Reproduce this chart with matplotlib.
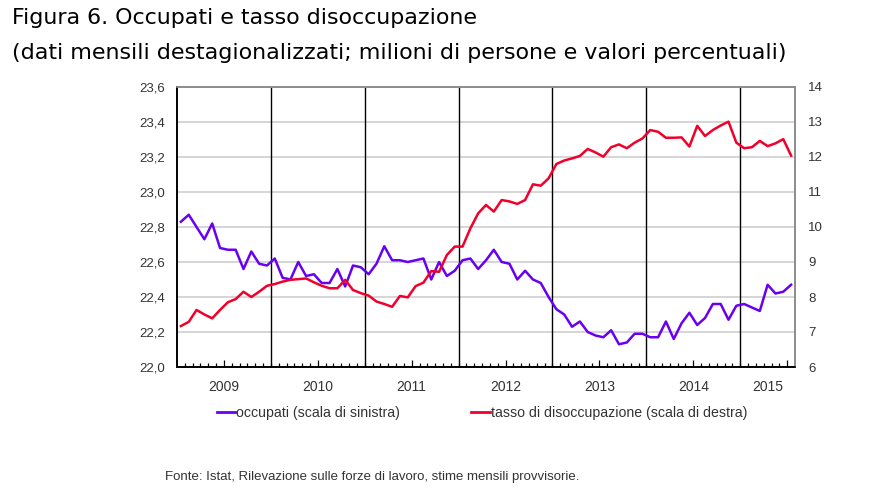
import numpy as np
import matplotlib
matplotlib.use("Agg")
import matplotlib.pyplot as plt
from matplotlib.lines import Line2D
import matplotlib.transforms as mtransforms

# occupati (milioni), gennaio 2009 - luglio 2015
occupati = [
    22.83, 22.87, 22.80, 22.73, 22.82, 22.68, 22.67, 22.67, 22.56, 22.66, 22.59, 22.58,
    22.62, 22.51, 22.50, 22.60, 22.52, 22.53, 22.48, 22.48, 22.56, 22.46, 22.58, 22.57,
    22.53, 22.59, 22.69, 22.61, 22.61, 22.60, 22.61, 22.62, 22.50, 22.60, 22.52, 22.55,
    22.61, 22.62, 22.56, 22.61, 22.67, 22.60, 22.59, 22.50, 22.55, 22.50, 22.48, 22.40,
    22.33, 22.30, 22.23, 22.26, 22.20, 22.18, 22.17, 22.21, 22.13, 22.14, 22.19, 22.19,
    22.17, 22.17, 22.26, 22.16, 22.25, 22.31, 22.24, 22.28, 22.36, 22.36, 22.27, 22.35,
    22.36, 22.34, 22.32, 22.47, 22.42, 22.43, 22.47,
]

# tasso di disoccupazione (%)
tasso = [
    7.17, 7.29, 7.63, 7.50, 7.39, 7.63, 7.85, 7.94, 8.15, 8.00, 8.15, 8.32,
    8.37, 8.44, 8.49, 8.51, 8.53, 8.42, 8.32, 8.25, 8.25, 8.49, 8.20, 8.11,
    8.04, 7.87, 7.80, 7.72, 8.03, 7.99, 8.31, 8.41, 8.74, 8.72, 9.20, 9.44,
    9.44, 9.96, 10.39, 10.63, 10.44, 10.77, 10.73, 10.66, 10.77, 11.22, 11.18, 11.39,
    11.80, 11.90, 11.96, 12.03, 12.23, 12.13, 12.01, 12.28, 12.36, 12.25, 12.41, 12.53,
    12.77, 12.72, 12.55, 12.55, 12.56, 12.30, 12.89, 12.60, 12.77, 12.90, 13.01, 12.41,
    12.25, 12.28, 12.46, 12.31, 12.39, 12.51, 12.04,
]

anni = ["2009", "2010", "2011", "2012", "2013", "2014", "2015"]
left_ticks = [22.0, 22.2, 22.4, 22.6, 22.8, 23.0, 23.2, 23.4, 23.6]
right_ticks = [6, 7, 8, 9, 10, 11, 12, 13, 14]

viola = "#6a00f0"
rosso = "#f0002a"
txt = "#333333"

n = len(occupati)
x = np.arange(n) + 0.5

fig = plt.figure(figsize=(8.84, 4.90), dpi=100)
ax = fig.add_axes([177 / 884, 1 - 367 / 490, (795 - 177) / 884, (367 - 87) / 490])
ax2 = ax.twinx()

# griglia orizzontale
for v in left_ticks[1:-1]:
    ax.axhline(v, color="#d2d2d2", lw=1.3, zorder=0)
# separatori anni
for k in range(1, len(anni)):
    ax.axvline(12 * k, color="black", lw=1.0, zorder=1)

ax.plot(x, occupati, color=viola, lw=1.8, zorder=3)
ax2.plot(x, tasso, color=rosso, lw=1.8, zorder=3)

ax.set_xlim(0, n)
ax.set_ylim(22.0, 23.6)
ax2.set_ylim(6, 14)

ax.set_yticks(left_ticks)
ax.set_yticklabels([f"{v:.1f}".replace(".", ",") for v in left_ticks])
ax2.set_yticks(right_ticks)
ax2.set_yticklabels([str(v) for v in right_ticks])

for a in (ax, ax2):
    a.tick_params(axis="y", length=0, labelsize=9.5, labelcolor=txt,
                  labelfontfamily="Liberation Sans")
ax.tick_params(axis="y", pad=8.5)
ax2.tick_params(axis="y", pad=9.5)

# tacche mensili
ax.set_xticks(np.arange(1, n), minor=True)
ax.set_xticks(np.arange(6, n, 12))
ax.set_xticklabels([])
ax.tick_params(axis="x", which="minor", direction="in", length=3, width=0.9, color="black")
ax.tick_params(axis="x", which="major", direction="in", length=5, width=0.9, color="black")
ax2.tick_params(axis="x", length=0)

trans = mtransforms.blended_transform_factory(ax.transData, ax.transAxes)
for k, anno in enumerate(anni):
    fine = min(12 * (k + 1), n)
    ax.text((12 * k + fine) / 2, -0.045, anno, transform=trans, ha="center", va="top",
            fontsize=10, color=txt, family="Liberation Sans")

for a in (ax, ax2):
    a.spines["top"].set_color("#8c8c8c")
    a.spines["right"].set_color("#8c8c8c")
    a.spines["left"].set_color("black")
    a.spines["bottom"].set_color("black")
    for s in a.spines.values():
        s.set_linewidth(1.2)

fig.text(12 / 884, 1 - 18 / 490, "Figura 6. Occupati e tasso disoccupazione",
         fontsize=15.9, family="DejaVu Sans", va="center", ha="left", color="black")
fig.text(12 / 884, 1 - 53 / 490,
         "(dati mensili destagionalizzati; milioni di persone e valori percentuali)",
         fontsize=15.9, family="DejaVu Sans", va="center", ha="left", color="black")

handles = [Line2D([], [], color=viola, lw=2), Line2D([], [], color=rosso, lw=2)]
labels = ["occupati (scala di sinistra)", "tasso di disoccupazione (scala di destra)"]
fig.legend(handles, labels, loc="center", bbox_to_anchor=(482 / 884, 1 - 413 / 490),
           ncol=2, frameon=False, handlelength=1.3, handletextpad=0.1,
           columnspacing=5.0, prop={"family": "Liberation Sans", "size": 10.2}, labelcolor=txt)

fig.text(165 / 884, 1 - 477 / 490,
         "Fonte: Istat, Rilevazione sulle forze di lavoro, stime mensili provvisorie.",
         fontsize=9.5, family="Liberation Sans", va="center", ha="left", color=txt)

fig.savefig("out.png", dpi=100)
